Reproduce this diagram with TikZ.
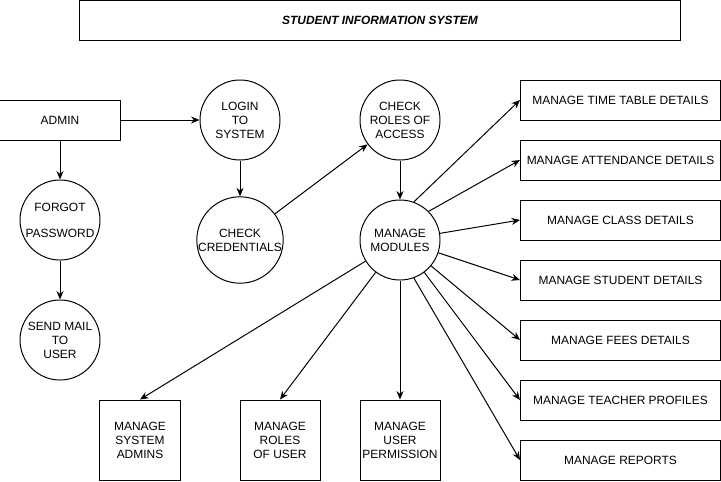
\documentclass[tikz,border=0pt]{standalone}
\usepackage{fontspec}
\setmainfont{Liberation Sans}
\usetikzlibrary{arrows.meta}

\begin{document}
\begin{tikzpicture}[x=0.025cm, y=-0.025cm, line width=0.7pt,
  every node/.style={draw, align=center, inner sep=0pt, font=\fontsize{8.5}{10}\selectfont},
  proc/.style={circle, minimum size=2cm},
  ent/.style={rectangle, minimum width=3cm, minimum height=1cm},
  modbox/.style={rectangle, minimum width=5cm, minimum height=1cm},
  subbox/.style={rectangle, minimum width=2cm, minimum height=2cm},
  >={Stealth[length=6pt, width=5pt]}]
\useasboundingbox (0,0) rectangle (721,481);

% title
\node[rectangle, minimum width=15cm, minimum height=0.98cm, font=\fontsize{8.5}{10}\selectfont\bfseries\itshape] (title) at (380,20.5) {STUDENT INFORMATION SYSTEM};

% admin side
\node[ent] (admin) at (60,120) {ADMIN};
\node[proc] (forgot) at (60,220) {FORGOT\\[0.3cm]PASSWORD};
\node[proc] (mail) at (60,340) {SEND MAIL\\TO\\USER};
\draw[->] (admin) -- (forgot);
\draw[->] (forgot) -- (mail);

% login
\node[proc] (login) at (240,120) {LOGIN\\TO\\SYSTEM};
\node[proc] (cred) at (240,240) {CHECK\\CREDENTIALS};
\node[proc] (roles) at (400,120) {CHECK\\ROLES OF\\ACCESS};
\node[proc] (mods) at (400,240) {MANAGE\\MODULES};
\draw[->] (admin) -- (login);
\draw[->] (login) -- (cred);
\draw[->] (cred) -- (roles);
\draw[->] (roles) -- (mods);

% modules
\node[modbox] (tt) at (620.5,100) {MANAGE TIME TABLE DETAILS};
\node[modbox] (att) at (620.5,160) {MANAGE ATTENDANCE DETAILS};
\node[modbox] (cls) at (620.5,220) {MANAGE CLASS DETAILS};
\node[modbox] (stu) at (620.5,280) {MANAGE STUDENT DETAILS};
\node[modbox] (fees) at (620.5,340) {MANAGE FEES DETAILS};
\node[modbox] (tea) at (620.5,400) {MANAGE TEACHER PROFILES};
\node[modbox] (rep) at (620.5,460) {MANAGE REPORTS};
\node[subbox] (sa) at (140,440) {MANAGE\\SYSTEM\\ADMINS};
\node[subbox] (ru) at (280,440) {MANAGE\\ROLES\\OF USER};
\node[subbox] (up) at (400,440) {MANAGE\\USER\\PERMISSION};

\draw[->] (mods.70) -- (tt.west);
\draw[->] (mods.45) -- (att.west);
\draw[->] (mods) -- (cls.west);
\draw[->] (mods) -- (stu.west);
\draw[->] (mods) -- (fees.west);
\draw[->] (mods) -- (tea.west);
\draw[->] (mods.-70) -- (rep.west);
\draw[->] (mods) -- (sa.north);
\draw[->] (mods) -- (ru.north);
\draw[->] (mods) -- (up.north);
\end{tikzpicture}
\end{document}
